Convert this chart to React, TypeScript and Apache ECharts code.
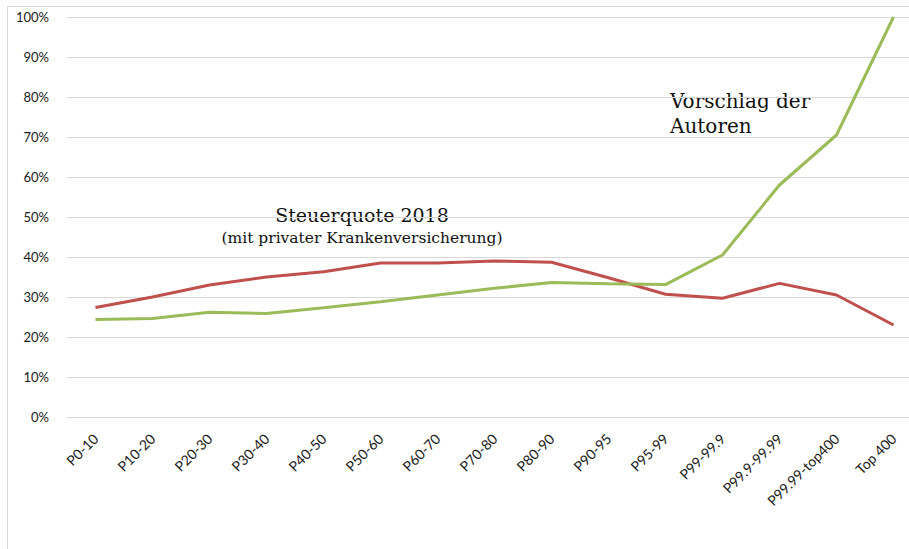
import React, { useEffect, useRef } from "react";
import * as echarts from "echarts";

const categories = [
  "P0-10", "P10-20", "P20-30", "P30-40", "P40-50", "P50-60", "P60-70", "P70-80",
  "P80-90", "P90-95", "P95-99", "P99-99.9", "P99.9-99.99", "P99.99-top400", "Top 400",
];
const steuerquote2018 = [27.4, 30.0, 33.0, 35.0, 36.3, 38.5, 38.5, 39.0, 38.7, 34.8, 30.7, 29.7, 33.4, 30.5, 23.0];
const vorschlagAutoren = [24.4, 24.6, 26.2, 25.9, 27.3, 28.8, 30.5, 32.2, 33.6, 33.3, 33.1, 40.5, 58.0, 70.5, 100];
const yTicks = [0, 10, 20, 30, 40, 50, 60, 70, 80, 90, 100];

export default function App() {
  const ref = useRef<HTMLDivElement>(null);
  useEffect(() => {
    if (!ref.current) return;
    const chart = echarts.init(ref.current, null, { renderer: "svg" });
    chart.setOption({
      animation: false,
      backgroundColor: "#ffffff",
      grid: { left: 67, top: 17, width: 855, height: 400, containLabel: false },
      xAxis: {
        type: "category",
        data: categories,
        boundaryGap: true,
        axisLine: { show: true, lineStyle: { color: "#d9d9d9", width: 1 } },
        axisTick: { show: false },
        axisLabel: {
          rotate: 45,
          interval: 0,
          margin: 19,
          color: "#1a1a1a",
          fontFamily: "Lato, 'Open Sans', sans-serif",
          fontSize: 14,
        },
      },
      yAxis: {
        type: "value",
        min: yTicks[0],
        max: yTicks[yTicks.length - 1],
        interval: 10,
        axisLine: { show: false },
        axisTick: { show: false },
        splitLine: { lineStyle: { color: "#d9d9d9", width: 1 } },
        axisLabel: {
          formatter: "{value}%",
          margin: 18,
          color: "#1a1a1a",
          fontFamily: "Lato, 'Open Sans', sans-serif",
          fontSize: 13,
        },
      },
      series: [
        {
          name: "Steuerquote 2018",
          type: "line",
          data: steuerquote2018,
          symbol: "none",
          lineStyle: { color: "#C0504D", width: 3 },
          itemStyle: { color: "#C0504D" },
        },
        {
          name: "Vorschlag der Autoren",
          type: "line",
          data: vorschlagAutoren,
          symbol: "none",
          lineStyle: { color: "#9BBB59", width: 3 },
          itemStyle: { color: "#9BBB59" },
        },
      ],
      graphic: [
        {
          type: "rect",
          shape: { x: 7.5, y: 6.5, width: 960, height: 600 },
          style: { fill: "none", stroke: "#d9d9d9", lineWidth: 1 },
          silent: true,
        },
        {
          type: "text",
          x: 362,
          y: 224,
          style: {
            text: "Steuerquote 2018",
            fill: "#111",
            font: "19px 'DejaVu Serif', 'Liberation Serif', serif",
            textAlign: "center",
            textVerticalAlign: "bottom",
          },
        },
        {
          type: "text",
          x: 362,
          y: 246,
          style: {
            text: "(mit privater Krankenversicherung)",
            fill: "#111",
            font: "15.5px 'DejaVu Serif', 'Liberation Serif', serif",
            textAlign: "center",
            textVerticalAlign: "bottom",
          },
        },
        {
          type: "text",
          x: 670,
          y: 88,
          style: {
            text: "Vorschlag der\nAutoren",
            fill: "#111",
            font: "20px 'DejaVu Serif', 'Liberation Serif', serif",
            lineHeight: 25,
            textAlign: "left",
            textVerticalAlign: "top",
          },
        },
      ],
    });
    return () => chart.dispose();
  }, []);
  return (
    <div style={{ position: "fixed", left: 0, top: 0, width: 909, height: 549, overflow: "hidden", background: "#fff" }}>
      <div ref={ref} style={{ width: 960, height: 549 }} />
    </div>
  );
}
